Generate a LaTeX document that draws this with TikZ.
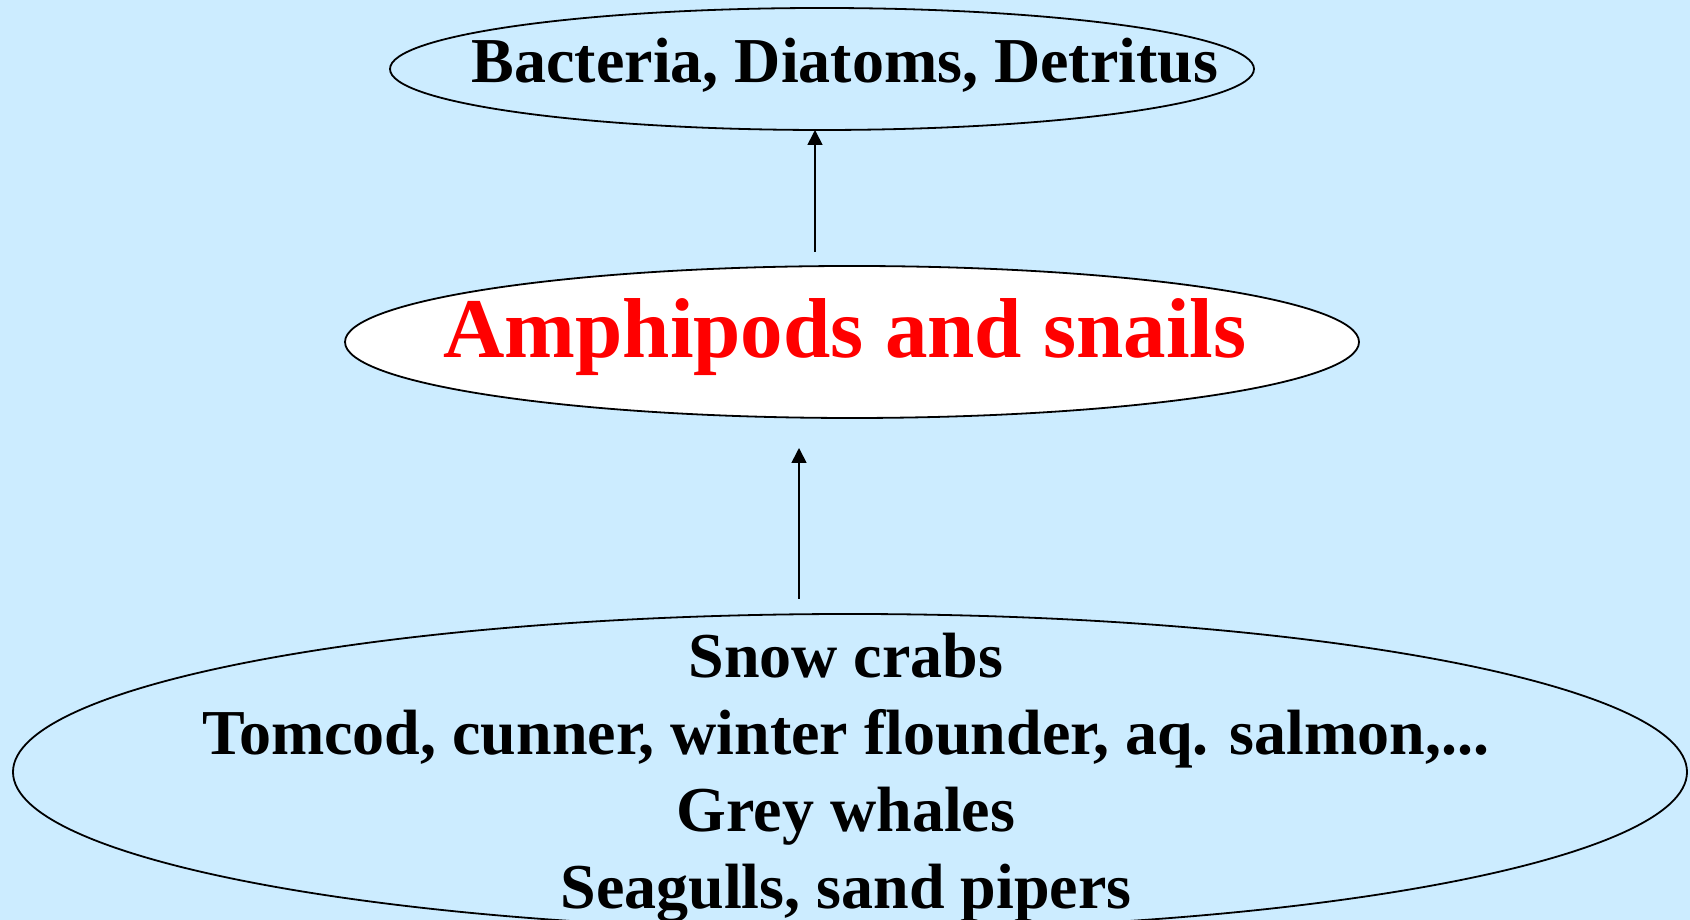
\documentclass[tikz,border=0pt]{standalone}
\usepackage{fontspec}
\setmainfont{Liberation Serif}
\usetikzlibrary{shapes.geometric}
\usetikzlibrary{arrows.meta}
\definecolor{seablue}{HTML}{CCECFF}

\begin{document}
\begin{tikzpicture}[x=1pt, y=1pt,
  every node/.style={inner sep=0pt, outer sep=0pt},
  pod/.style={ellipse, draw=black, line width=1.8pt},
  lbl/.style={font=\bfseries\fontsize{64}{77}\selectfont, anchor=base, align=center},
  up/.style={line width=1.6pt, -{Triangle[length=15pt, width=15pt]}}]
			\fill[seablue] (0,0) rectangle (1690,920);
			\useasboundingbox (0,0) rectangle (1690,920);
			
			\node[pod, fill=seablue, minimum width=864, minimum height=122] (food) at (822,851) {};
			\node[pod, fill=white, minimum width=1014, minimum height=152] (amph) at (852,578) {};
			\node[pod, fill=seablue, minimum width=1674, minimum height=316] (pred) at (850,148) {};
			
			\node[lbl] (foodT) at (845,837) {Bacteria, Diatoms, Detritus};
			\node[lbl, text=red, font=\bfseries\fontsize{85}{100}\selectfont] (amphT) at (845,562) {Amphipods and snails};
			\node[lbl] (predT) at (846,11) {Snow crabs\\Tomcod, cunner, winter flounder, aq. salmon,...\\Grey whales\\Seagulls, sand pipers};
			
			\coordinate (s1) at (815,668);
			\coordinate (s2) at (799,321);
			\coordinate (e2) at (799,472);
			
			\draw[up] (s1) -- (s1 |- food.south);
			\draw[up] (s2) -- (e2);
		\end{tikzpicture}
\end{document}
